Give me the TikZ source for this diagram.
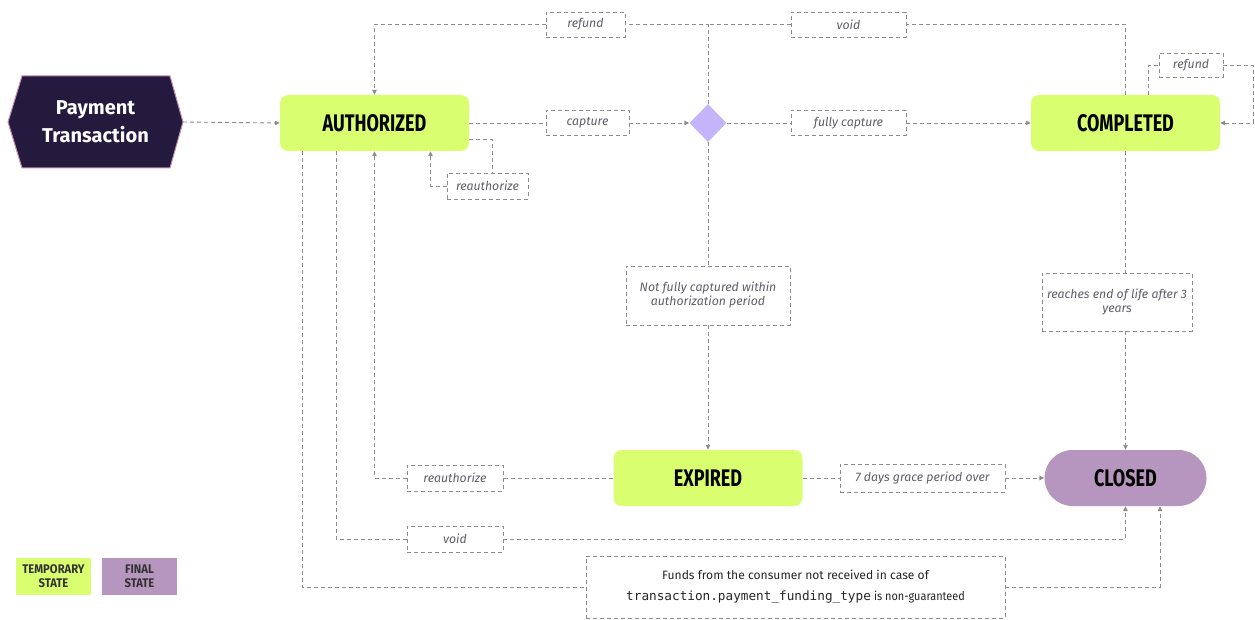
\documentclass[tikz,border=0pt]{standalone}
\usepackage{fontspec}
\setmainfont{Fira Sans}
\newfontfamily\condfont{Fira Sans}[FakeStretch=0.75]
\newfontfamily\semifont{Fira Sans}[FakeStretch=0.9]
\newfontfamily\codefont{DejaVu Sans Mono}
\usetikzlibrary{arrows.meta,shapes.geometric,shapes.misc}
\definecolor{lime}{RGB}{217,255,112}
\definecolor{finalc}{RGB}{182,149,190}
\definecolor{diac}{RGB}{196,181,251}
\definecolor{navy}{RGB}{35,26,62}
\definecolor{hexb}{RGB}{200,140,175}
\definecolor{linec}{RGB}{140,140,140}
\definecolor{lblc}{RGB}{95,95,105}
\tikzset{
 state/.style={fill=lime, rounded corners=8pt, minimum width=189pt, minimum height=56pt, font=\condfont\bfseries\fontsize{24}{28}\selectfont, inner sep=0pt},
 conn/.style={draw=linec, line width=0.9pt, dash pattern=on 4pt off 3pt},
 arr/.style={conn, -{Triangle[length=5pt,width=4.5pt]}, fill=none},
 lbl/.style={draw=linec, line width=0.9pt, dash pattern=on 4pt off 3pt, fill=white, font=\itshape\fontsize{12.3}{14}\selectfont, text=lblc, inner sep=0pt, align=center},
 legend/.style={minimum width=75pt, minimum height=37pt, font=\semifont\bfseries\fontsize{12.5}{14}\selectfont, align=center, text=black!80, inner sep=0pt},
}
\begin{document}
\begin{tikzpicture}[x=1pt,y=-1pt]
\useasboundingbox[fill=white] (0,0) rectangle (1255,620);
% nodes
\draw[fill=navy, draw=hexb, line width=1pt] (8,122) -- (22,76) -- (170,76) -- (183,122) -- (170,168) -- (22,168) -- cycle;
\node[minimum width=175pt, minimum height=92pt, inner sep=0pt, text=white, font=\bfseries\fontsize{20}{28}\selectfont, align=center] (pay) at (95.5,122) {Payment\\Transaction};
\node[state] (auth) at (374.5,123) {AUTHORIZED};
\node[state] (comp) at (1125.5,123) {COMPLETED};
\node[state] (exp) at (708,478) {EXPIRED};
\node[state, fill=finalc, rounded corners=28pt, minimum width=162pt] (closed) at (1125.5,478) {CLOSED};
\node[diamond, fill=diac, minimum width=37pt, minimum height=38pt, inner sep=0pt] (dia) at (708,123) {};
% labels
\node[lbl, minimum width=79pt, minimum height=25pt] (rf1) at (585.5,24.5) {refund};
\node[lbl, minimum width=115pt, minimum height=25pt] (vd1) at (848.5,24.5) {void};
\node[lbl, minimum width=83pt, minimum height=25pt] (cap) at (587.5,123) {capture};
\node[lbl, minimum width=115pt, minimum height=25pt] (fc) at (848.5,123) {fully capture};
\node[lbl, minimum width=81pt, minimum height=26pt] (ra1) at (487.5,186) {reauthorize};
\node[lbl, minimum width=164pt, minimum height=59pt] (nf) at (708,295.5) {Not fully captured within\\authorization period};
\node[lbl, minimum width=150pt, minimum height=58pt] (eol) at (1117,302) {reaches end of life after 3\\years};
\node[lbl, minimum width=96pt, minimum height=26pt] (ra2) at (455,478) {reauthorize};
\node[lbl, minimum width=96pt, minimum height=26pt] (vd2) at (455,539) {void};
\node[lbl, minimum width=165pt, minimum height=28pt] (gp) at (922.5,478) {7 days grace period over};
\node[lbl, minimum width=419pt, minimum height=62pt, font=\fontsize{12.1}{21}\selectfont, text=black!85] (fund) at (795.5,587) {Funds from the consumer not received in case of\\{\codefont\fontsize{12.7}{21}\selectfont transaction.payment\_funding\_type} {\semifont is non-guaranteed}};
\node[lbl, minimum width=64pt, minimum height=24pt] (rf2) at (1191,65) {refund};
% legend
\node[legend, fill=lime] (legt) at (53.5,576.5) {TEMPORARY\\STATE};
\node[legend, fill=finalc] (legf) at (139.5,576.5) {FINAL\\STATE};
% connectors
\draw[arr] (pay.east) -- (auth.west);
\draw[conn] (auth.east) -- (cap.west);
\draw[arr] (cap.east) -- (dia.west);
\draw[conn] (dia.east) -- (fc.west);
\draw[arr] (fc.east) -- (comp.west);
\draw[conn] (dia.north) |- (rf1.east);
\draw[arr] (rf1.west) -| (auth.north);
\draw[conn] (comp.north) |- (vd1.east);
\draw[conn] (vd1.west) -- (dia.north |- vd1.west);
\draw[conn] (dia.south) -- (nf.north);
\draw[arr] (nf.south) -- (exp.north);
\draw[conn] (comp.south) -- (comp.south |- eol.north);
\draw[arr] (comp.south |- eol.south) -- (closed.north);
\draw[conn] (exp.east) -- (gp.west);
\draw[arr] (gp.east) -- (closed.west);
\draw[conn] (exp.west) -- (ra2.east);
\draw[arr] (ra2.west) -| (auth.south);
\draw[conn] ([xshift=-38.5pt]auth.south) |- (vd2.west);
\draw[arr] (vd2.east) -| (closed.south);
\draw[conn] ([xshift=-72.5pt]auth.south) |- (fund.west);
\draw[arr] (fund.east) -| ([xshift=34.5pt]closed.south);
\draw[conn] ([yshift=-16pt]auth.east) -| ([xshift=5pt]ra1.north);
\draw[arr] (ra1.west) -| ([xshift=56pt]auth.south);
\draw[conn] ([xshift=23pt]comp.north) |- (rf2.west);
\coordinate (rr) at (1253,65);
\draw[arr] (rf2.east) -- (rr) |- (comp.east);
\end{tikzpicture}
\end{document}
